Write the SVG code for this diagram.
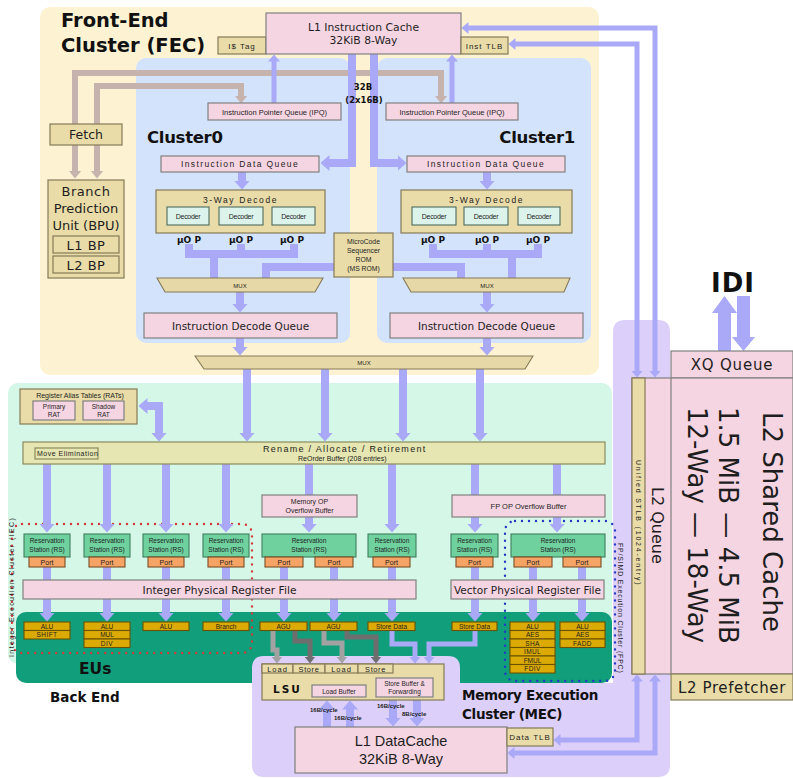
<svg xmlns="http://www.w3.org/2000/svg" width="793" height="778" viewBox="0 0 793 778">
<style>
.t{font-family:"Liberation Sans",Arial,sans-serif;fill:#1e1e1e}
.d{font-family:"DejaVu Sans",sans-serif;fill:#1e1e1e}
.b{font-family:"DejaVu Sans",sans-serif;font-weight:bold;fill:#111}
.m{text-anchor:middle}
.pk{fill:#f6d5e2;stroke:#808080;stroke-width:1.2}
.tn{fill:#e9dca8;stroke:#857a58;stroke-width:1.2}
.dc{fill:#dcf3ec;stroke:#4f6b60;stroke-width:1.1}
.rs{fill:#6fd29e;stroke:#3f7f5e;stroke-width:1.1}
.pt{fill:#f5a465;stroke:#7a4d24;stroke-width:1.1}
.eu{fill:#dcaa05;stroke:#6b5200;stroke-width:1.1}
.rn{fill:#e5e6b1;stroke:#8a8a5e;stroke-width:1.2}
.mx{fill:#e7d9a7;stroke:#857a58;stroke-width:1.1}
.lv{fill:none;stroke:#a9a9f7;stroke-width:8}
.lv5{fill:none;stroke:#a9a9f7;stroke-width:5}
.fe{fill:none;stroke:#c6b3ae;stroke-width:6}
.gl{fill:none;stroke:#a2a2a2;stroke-width:5}
.gd{fill:none;stroke:#6e6e6e;stroke-width:5}
</style>
<defs>
<marker id="a8" viewBox="0 0 9 16" refX="0.5" refY="8" markerWidth="9" markerHeight="16" markerUnits="userSpaceOnUse" orient="auto-start-reverse"><path d="M0,0 L9,8 L0,16 Z" fill="#a9a9f7"/></marker>
<marker id="a5" viewBox="0 0 7 12" refX="0.5" refY="6" markerWidth="7" markerHeight="12" markerUnits="userSpaceOnUse" orient="auto-start-reverse"><path d="M0,0 L7,6 L0,12 Z" fill="#a9a9f7"/></marker>
<marker id="af" viewBox="0 0 8 13" refX="0.5" refY="6.5" markerWidth="8" markerHeight="13" markerUnits="userSpaceOnUse" orient="auto-start-reverse"><path d="M0,0 L8,6.5 L0,13 Z" fill="#c6b3ae"/></marker>
<marker id="agl" viewBox="0 0 7 11" refX="0.5" refY="5.5" markerWidth="7" markerHeight="11" markerUnits="userSpaceOnUse" orient="auto"><path d="M0,0 L7,5.5 L0,11 Z" fill="#a2a2a2"/></marker>
<marker id="agd" viewBox="0 0 7 11" refX="0.5" refY="5.5" markerWidth="7" markerHeight="11" markerUnits="userSpaceOnUse" orient="auto"><path d="M0,0 L7,5.5 L0,11 Z" fill="#6e6e6e"/></marker>
</defs>

<!-- cluster backgrounds -->
<g id="regions">
<rect x="40" y="7" width="559" height="368" rx="10" fill="#fdf3d3"/>
<rect x="136" y="58" width="214" height="285" rx="10" fill="#d3e3fb"/>
<rect x="377" y="58" width="214" height="285" rx="10" fill="#d3e3fb"/>
<rect x="8" y="383" width="604" height="281" rx="10" fill="#d5f7e7"/>
<rect x="16" y="612" width="596" height="71" rx="10" fill="#119e7b"/>
<path d="M252,668 Q252,656 264,656 L448,656 Q460,656 460,668 L460,683 L613,683 L613,332 Q613,320 625,320 L658,320 Q670,320 670,332 L670,765 Q670,777 658,777 L264,777 Q252,777 252,765 Z" fill="#dccff9"/>
<rect x="12" y="524" width="240" height="129" rx="10" fill="none" stroke="#d23a3a" stroke-width="2.4" stroke-linecap="round" stroke-dasharray="0 7"/>
<rect x="505" y="521" width="110" height="160" rx="10" fill="none" stroke="#2438c4" stroke-width="2.4" stroke-linecap="round" stroke-dasharray="0 7"/>
</g>

<g id="titles">
<text class="b" x="61" y="27" font-size="19.5">Front-End</text>
<text class="b" x="61" y="52" font-size="19.5">Cluster (FEC)</text>
<text class="b" x="147" y="143" font-size="16.5" letter-spacing="-0.3">Cluster0</text>
<text class="b" x="575" y="143" font-size="16.5" letter-spacing="-0.3" text-anchor="end">Cluster1</text>
<text class="b" x="79" y="674" font-size="15.5">EUs</text>
<text class="b" x="50" y="702" font-size="13.5">Back End</text>
<text class="b" x="462" y="700" font-size="13.5" letter-spacing="-0.3">Memory Execution</text>
<text class="b" x="462" y="719" font-size="13.5" letter-spacing="-0.3">Cluster (MEC)</text>
<text class="b m" x="733" y="292" font-size="26" letter-spacing="1">IDI</text>
<text class="t" transform="translate(14,657) rotate(-90)" font-size="7" letter-spacing="1.4" fill="#5a5a4a">Integer Execution Cluster (IEC)</text>
<text class="t" transform="translate(618,543) rotate(90)" font-size="7" letter-spacing="0.8">FP/SIMD Execution Cluster (FPC)</text>
</g>

<g id="connectors">
<!-- fetch / branch prediction paths -->
<path class="fe" d="M75,171 V73 H441 V96" marker-start="url(#af)" marker-end="url(#af)"/>
<path class="fe" d="M97,171 V86 H241 V96" marker-start="url(#af)" marker-end="url(#af)"/>
<!-- L2 to L1I$ / ITLB -->
<path class="lv5" d="M655,371 V28 H468" marker-start="url(#a5)" marker-end="url(#a5)"/>
<path class="lv5" d="M637,371 V44 H515" marker-start="url(#a5)" marker-end="url(#a5)"/>
<!-- IPQ to L1I$ -->
<path class="lv5" d="M274,103 V61" marker-end="url(#a5)"/>
<path class="lv5" d="M452,103 V61" marker-end="url(#a5)"/>
<!-- 32B fetch -->
<path class="lv" stroke-width="9" d="M352,54 V163 H329" marker-end="url(#a8)"/>
<path class="lv" stroke-width="9" d="M374,54 V163 H398" marker-end="url(#a8)"/>
<!-- decode pipeline -->
<path class="lv" d="M242,172 V181" marker-end="url(#a8)"/>
<path class="lv" d="M487,172 V181" marker-end="url(#a8)"/>
<path class="lv" d="M189,244 V257 M241,244 V257 M294,244 V257 M214,254 V278"/>
<path class="lv" stroke-width="6" d="M185,254 H298"/>
<path class="lv" d="M433,244 V257 M487,244 V257 M538,244 V257 M512,254 V278"/>
<path class="lv" stroke-width="6" d="M429,254 H542"/>
<path class="lv" stroke-width="7" d="M334,267 H266 V278 M393,267 H461 V278"/>
<path class="lv" d="M240,292 V304" marker-end="url(#a8)"/>
<path class="lv" d="M487,292 V304" marker-end="url(#a8)"/>
<path class="lv" d="M240,338 V347" marker-end="url(#a8)"/>
<path class="lv" d="M487,338 V347" marker-end="url(#a8)"/>
<path class="lv" d="M247,369 V433" marker-end="url(#a8)"/>
<path class="lv" d="M325,369 V433" marker-end="url(#a8)"/>
<path class="lv" d="M403,369 V433" marker-end="url(#a8)"/>
<path class="lv" d="M480,369 V433" marker-end="url(#a8)"/>
<path class="lv" d="M159,433 V406 H147" marker-start="url(#a8)" marker-end="url(#a8)"/>
<!-- allocation to reservation stations -->
<path class="lv" d="M47,464 V524" marker-end="url(#a8)"/>
<path class="lv" d="M107,464 V524" marker-end="url(#a8)"/>
<path class="lv" d="M166,464 V524" marker-end="url(#a8)"/>
<path class="lv" d="M226,464 V524" marker-end="url(#a8)"/>
<path class="lv" d="M309,464 V524" marker-end="url(#a8)"/>
<path class="lv" d="M392,464 V524" marker-end="url(#a8)"/>
<path class="lv" d="M475,464 V524" marker-end="url(#a8)"/>
<path class="lv" d="M557,464 V524" marker-end="url(#a8)"/>
<!-- ports to execution units -->
<path class="lv" d="M47,567 V613" marker-end="url(#a8)"/>
<path class="lv" d="M107,567 V613" marker-end="url(#a8)"/>
<path class="lv" d="M166,567 V613" marker-end="url(#a8)"/>
<path class="lv" d="M226,567 V613" marker-end="url(#a8)"/>
<path class="lv" d="M284,567 V613" marker-end="url(#a8)"/>
<path class="lv" d="M334,567 V613" marker-end="url(#a8)"/>
<path class="lv" d="M392,567 V613" marker-end="url(#a8)"/>
<path class="lv" d="M475,567 V613" marker-end="url(#a8)"/>
<path class="lv" d="M533,567 V613" marker-end="url(#a8)"/>
<path class="lv" d="M582,567 V613" marker-end="url(#a8)"/>
<!-- AGU to load/store -->
<path class="gl" d="M273,631 V650 H277 V657" marker-end="url(#agl)"/>
<path class="gd" d="M295,631 V641 H310 V657" marker-end="url(#agd)"/>
<path class="gl" d="M324,631 V643 H342 V657" marker-end="url(#agl)"/>
<path class="gd" d="M347,631 V637 H376 V657" marker-end="url(#agd)"/>
<!-- store data -->
<path class="lv5" stroke-width="6" d="M392,630 V644 H415 V657" marker-end="url(#a5)"/>
<path class="lv5" stroke-width="6" d="M475,630 V644 H429 V657" marker-end="url(#a5)"/>
<!-- LSU and L1D -->
<path class="lv" d="M327,727 V709" marker-end="url(#a8)"/>
<path class="lv" d="M350,727 V709" marker-end="url(#a8)"/>
<path class="lv" d="M393,700 V718" marker-end="url(#a8)"/>
<path class="lv" d="M417,700 V718" marker-end="url(#a8)"/>
<!-- L2 to DTLB / L1D -->
<path class="lv5" d="M637,681 V740 H560" marker-start="url(#a5)" marker-end="url(#a5)"/>
<path class="lv5" d="M655,681 V753 H514" marker-start="url(#a5)" marker-end="url(#a5)"/>
<!-- IDI -->
<polygon points="718,351 718,313 712,313 724.5,296 737,313 731,313 731,351" fill="#a9a9f7"/>
<polygon points="737,296 750,296 750,337 755,337 743.5,351 732,337 737,337" fill="#a9a9f7"/>
</g>

<g id="itag"><rect class="tn" x="218" y="37" width="48" height="17"/><text class="t m" x="242" y="49" font-size="8" letter-spacing="1">I$ Tag</text></g>
<g id="l1i"><rect class="pk" x="266" y="13" width="195" height="41"/><text class="d m" x="363.5" y="31" font-size="10.8">L1 Instruction Cache</text><text class="d m" x="363.5" y="44" font-size="10.8">32KiB 8-Way</text></g>
<g id="itlb"><rect class="tn" x="461" y="37" width="47" height="17"/><text class="t m" x="484.5" y="49" font-size="8" letter-spacing="1">Inst TLB</text></g>
<g id="fetch"><rect class="tn" x="50" y="124" width="72" height="21"/><text class="d m" x="86" y="139" font-size="12.5">Fetch</text></g>
<g id="bpu"><rect class="tn" x="48" y="180" width="76" height="98"/>
<text class="d m" x="86" y="196" font-size="13" letter-spacing="0.5">Branch</text>
<text class="d m" x="86" y="213" font-size="13">Prediction</text>
<text class="d m" x="86" y="230" font-size="13">Unit (BPU)</text>
<rect class="tn" x="53" y="236" width="66" height="17"/><text class="d m" x="86" y="249.5" font-size="13" letter-spacing="0.5">L1 BP</text>
<rect class="tn" x="53" y="256" width="66" height="17"/><text class="d m" x="86" y="269.5" font-size="13" letter-spacing="0.5">L2 BP</text></g>
<g id="ipq0"><rect class="pk" x="208" y="103" width="133" height="17"/><text class="t m" x="274.5" y="114.5" font-size="7.5">Instruction Pointer Queue (IPQ)</text></g>
<g id="ipq1"><rect class="pk" x="386" y="103" width="132" height="17"/><text class="t m" x="452" y="114.5" font-size="7.5">Instruction Pointer Queue (IPQ)</text></g>
<g id="lbl32"><text class="b m" x="363" y="90" font-size="8.5">32B</text><text class="b m" x="364" y="103" font-size="8.5">(2x16B)</text></g>
<g id="idq0"><rect class="pk" x="161" y="156" width="158" height="16"/><text class="t m" x="240" y="167" font-size="8.5" letter-spacing="1.4">Instruction Data Queue</text></g>
<g id="idq1"><rect class="pk" x="407" y="156" width="158" height="16"/><text class="t m" x="486" y="167" font-size="8.5" letter-spacing="1.4">Instruction Data Queue</text></g>
<g id="dec0"><rect class="tn" x="156" y="190" width="169" height="43"/><text class="t m" x="240.5" y="203" font-size="8.5" letter-spacing="1.6">3-Way Decode</text>
<rect class="dc" x="167" y="207" width="42" height="18"/><text class="t m" x="188" y="219" font-size="7" letter-spacing="-0.3">Decoder</text>
<rect class="dc" x="219" y="207" width="44" height="18"/><text class="t m" x="241" y="219" font-size="7" letter-spacing="-0.3">Decoder</text>
<rect class="dc" x="272" y="207" width="43" height="18"/><text class="t m" x="293.5" y="219" font-size="7" letter-spacing="-0.3">Decoder</text>
<text class="b m" x="189" y="243" font-size="9">µO P</text><text class="b m" x="241" y="243" font-size="9">µO P</text><text class="b m" x="292" y="243" font-size="9">µO P</text></g>
<g id="dec1"><rect class="tn" x="401" y="190" width="171" height="43"/><text class="t m" x="486.5" y="203" font-size="8.5" letter-spacing="1.6">3-Way Decode</text>
<rect class="dc" x="412" y="207" width="44" height="18"/><text class="t m" x="434" y="219" font-size="7" letter-spacing="-0.3">Decoder</text>
<rect class="dc" x="464" y="207" width="44" height="18"/><text class="t m" x="486" y="219" font-size="7" letter-spacing="-0.3">Decoder</text>
<rect class="dc" x="518" y="207" width="42" height="18"/><text class="t m" x="539" y="219" font-size="7" letter-spacing="-0.3">Decoder</text>
<text class="b m" x="433" y="243" font-size="9">µO P</text><text class="b m" x="487" y="243" font-size="9">µO P</text><text class="b m" x="538" y="243" font-size="9">µO P</text></g>
<g id="msrom"><rect class="tn" x="334" y="233" width="59" height="44"/>
<text class="t m" x="363.5" y="244" font-size="6.8">MicroCode</text><text class="t m" x="363.5" y="253" font-size="6.8">Sequencer</text><text class="t m" x="363.5" y="262" font-size="6.8">ROM</text><text class="t m" x="363.5" y="271" font-size="6.8">(MS ROM)</text></g>
<g id="mux0"><polygon class="mx" points="157,278 323,278 315,292 165,292"/><text class="t m" x="240" y="287.5" font-size="6">MUX</text></g>
<g id="mux1"><polygon class="mx" points="403,278 570,278 564,292 411,292"/><text class="t m" x="487" y="287.5" font-size="6">MUX</text></g>
<g id="idecq0"><rect class="pk" x="144" y="313" width="193" height="25"/><text class="d m" x="240.5" y="329.5" font-size="10.5">Instruction Decode Queue</text></g>
<g id="idecq1"><rect class="pk" x="390" y="313" width="193" height="25"/><text class="d m" x="486.5" y="329.5" font-size="10.5">Instruction Decode Queue</text></g>
<g id="bigmux"><polygon class="mx" points="195,356 533,356 525,369 204,369"/><text class="t m" x="364" y="365" font-size="6">MUX</text></g>

<g id="rat"><rect class="tn" x="20" y="389" width="117" height="35"/><text class="t m" x="80" y="397.5" font-size="7">Register Alias Tables (RATs)</text>
<rect class="pk" x="33" y="401" width="42" height="19"/><text class="t m" x="54" y="409" font-size="6.5">Primary</text><text class="t m" x="54" y="417" font-size="6.5">RAT</text>
<rect class="pk" x="83" y="401" width="41" height="19"/><text class="t m" x="103.5" y="409" font-size="6.5">Shadow</text><text class="t m" x="103.5" y="417" font-size="6.5">RAT</text></g>
<g id="rename"><rect class="rn" x="23" y="442" width="582" height="22"/>
<text class="t" x="263" y="452" font-size="9" letter-spacing="1.3">Rename / Allocate / Retirement</text>
<text class="t" x="298" y="460.5" font-size="7">ReOrder Buffer (208 entries)</text>
<rect class="rn" x="35" y="448" width="63" height="11" stroke="#4f6b3a"/><text class="t" x="37" y="456" font-size="7" letter-spacing="0.5">Move Elimination</text></g>
<g id="memop"><rect class="pk" x="262" y="495" width="95" height="22"/><text class="t m" x="309.5" y="504" font-size="7">Memory OP</text><text class="t m" x="309.5" y="512.5" font-size="7">Overflow Buffer</text></g>
<g id="fpop"><rect class="pk" x="452" y="495" width="153" height="22"/><text class="t m" x="528.5" y="508.5" font-size="7.5">FP OP Overflow Buffer</text></g>

<g id="rs-int">
<rect class="rs" x="24" y="534" width="46" height="23"/><text class="t m" x="47" y="543" font-size="6.5">Reservation</text><text class="t m" x="47" y="551.5" font-size="6.5">Station (RS)</text>
<rect class="pt" x="29" y="557" width="36" height="10"/><text class="t m" x="47" y="565" font-size="7">Port</text>
<rect class="rs" x="84" y="534" width="46" height="23"/><text class="t m" x="107" y="543" font-size="6.5">Reservation</text><text class="t m" x="107" y="551.5" font-size="6.5">Station (RS)</text>
<rect class="pt" x="89" y="557" width="36" height="10"/><text class="t m" x="107" y="565" font-size="7">Port</text>
<rect class="rs" x="143" y="534" width="46" height="23"/><text class="t m" x="166" y="543" font-size="6.5">Reservation</text><text class="t m" x="166" y="551.5" font-size="6.5">Station (RS)</text>
<rect class="pt" x="148" y="557" width="36" height="10"/><text class="t m" x="166" y="565" font-size="7">Port</text>
<rect class="rs" x="203" y="534" width="46" height="23"/><text class="t m" x="226" y="543" font-size="6.5">Reservation</text><text class="t m" x="226" y="551.5" font-size="6.5">Station (RS)</text>
<rect class="pt" x="208" y="557" width="36" height="10"/><text class="t m" x="226" y="565" font-size="7">Port</text>
</g>
<g id="rs-mem">
<rect class="rs" x="262" y="534" width="94" height="23"/><text class="t m" x="309" y="543" font-size="6.5">Reservation</text><text class="t m" x="309" y="551.5" font-size="6.5">Station (RS)</text>
<rect class="pt" x="265" y="557" width="38" height="10"/><text class="t m" x="284" y="565" font-size="7">Port</text>
<rect class="pt" x="315" y="557" width="38" height="10"/><text class="t m" x="334" y="565" font-size="7">Port</text>
<rect class="rs" x="368" y="534" width="48" height="23"/><text class="t m" x="392" y="543" font-size="6.5">Reservation</text><text class="t m" x="392" y="551.5" font-size="6.5">Station (RS)</text>
<rect class="pt" x="373" y="557" width="37" height="10"/><text class="t m" x="391.5" y="565" font-size="7">Port</text>
</g>
<g id="rs-fp">
<rect class="rs" x="451" y="534" width="47" height="23"/><text class="t m" x="474.5" y="543" font-size="6.5">Reservation</text><text class="t m" x="474.5" y="551.5" font-size="6.5">Station (RS)</text>
<rect class="pt" x="456" y="557" width="37" height="10"/><text class="t m" x="474.5" y="565" font-size="7">Port</text>
<rect class="rs" x="511" y="534" width="94" height="23"/><text class="t m" x="558" y="543" font-size="6.5">Reservation</text><text class="t m" x="558" y="551.5" font-size="6.5">Station (RS)</text>
<rect class="pt" x="514" y="557" width="38" height="10"/><text class="t m" x="533" y="565" font-size="7">Port</text>
<rect class="pt" x="563" y="557" width="38" height="10"/><text class="t m" x="582" y="565" font-size="7">Port</text>
</g>
<g id="iprf"><rect class="pk" x="23" y="580" width="393" height="19"/><text class="d m" x="219.5" y="594" font-size="10.7">Integer Physical Register File</text></g>
<g id="vprf"><rect class="pk" x="451" y="580" width="153" height="19"/><text class="d m" x="527.5" y="594" font-size="10.5">Vector Physical Register File</text></g>

<g id="eus">
<rect class="eu" x="24" y="622" width="46" height="8.5"/><text class="t m" x="47" y="628.8" font-size="6.5">ALU</text>
<rect class="eu" x="24" y="630.5" width="46" height="8.5"/><text class="t m" x="47" y="637.3" font-size="6.5" letter-spacing="0.4">SHIFT</text>
<rect class="eu" x="84" y="622" width="46" height="8.5"/><text class="t m" x="107" y="628.8" font-size="6.5">ALU</text>
<rect class="eu" x="84" y="630.5" width="46" height="8.5"/><text class="t m" x="107" y="637.3" font-size="6.5">MUL</text>
<rect class="eu" x="84" y="639" width="46" height="8.5"/><text class="t m" x="107" y="645.8" font-size="6.5" letter-spacing="0.6">DIV</text>
<rect class="eu" x="143" y="622" width="46" height="8.5"/><text class="t m" x="166" y="628.8" font-size="6.5">ALU</text>
<rect class="eu" x="203" y="622" width="46" height="8.5"/><text class="t m" x="226" y="628.8" font-size="6.5">Branch</text>
<rect class="eu" x="260" y="622" width="47" height="8.5"/><text class="t m" x="283.5" y="628.8" font-size="6.5">AGU</text>
<rect class="eu" x="310" y="622" width="47" height="8.5"/><text class="t m" x="333.5" y="628.8" font-size="6.5">AGU</text>
<rect class="eu" x="368" y="622" width="47" height="8.5"/><text class="t m" x="391.5" y="628.8" font-size="6.5">Store Data</text>
<rect class="eu" x="452" y="622" width="45" height="8.5"/><text class="t m" x="474.5" y="628.8" font-size="6.5">Store Data</text>
<rect class="eu" x="510" y="622" width="45" height="8.5"/><text class="t m" x="532.5" y="628.8" font-size="6.5">ALU</text>
<rect class="eu" x="510" y="630.5" width="45" height="8.5"/><text class="t m" x="532.5" y="637.3" font-size="6.5">AES</text>
<rect class="eu" x="510" y="639" width="45" height="8.5"/><text class="t m" x="532.5" y="645.8" font-size="6.5" letter-spacing="0.4">SHA</text>
<rect class="eu" x="510" y="647.5" width="45" height="8.5"/><text class="t m" x="532.5" y="654.3" font-size="6.5" letter-spacing="0.4">IMUL</text>
<rect class="eu" x="510" y="656" width="45" height="8.5"/><text class="t m" x="532.5" y="662.8" font-size="6.5">FMUL</text>
<rect class="eu" x="510" y="664.5" width="45" height="8.5"/><text class="t m" x="532.5" y="671.3" font-size="6.5" letter-spacing="0.4">FDIV</text>
<rect class="eu" x="560" y="622" width="45" height="8.5"/><text class="t m" x="582.5" y="628.8" font-size="6.5">ALU</text>
<rect class="eu" x="560" y="630.5" width="45" height="8.5"/><text class="t m" x="582.5" y="637.3" font-size="6.5">AES</text>
<rect class="eu" x="560" y="639" width="45" height="8.5"/><text class="t m" x="582.5" y="645.8" font-size="6.5" letter-spacing="0.4">FADD</text>
</g>

<g id="lsu"><rect class="tn" x="262" y="664" width="182" height="36"/>
<rect class="tn" x="262" y="664" width="31" height="9"/><text class="t m" x="277.5" y="671.5" font-size="7.5" letter-spacing="1">Load</text>
<rect class="tn" x="293" y="664" width="32" height="9"/><text class="t m" x="309" y="671.5" font-size="7.5" letter-spacing="0.6">Store</text>
<rect class="tn" x="325" y="664" width="33" height="9"/><text class="t m" x="341.5" y="671.5" font-size="7.5" letter-spacing="1">Load</text>
<rect class="tn" x="358" y="664" width="35" height="9"/><text class="t m" x="375.5" y="671.5" font-size="7.5" letter-spacing="0.6">Store</text>
<text class="b" x="273" y="693" font-size="10.5" letter-spacing="2">LSU</text>
<rect class="pk" x="312" y="685" width="54" height="12"/><text class="t m" x="339" y="693.5" font-size="6.5">Load Buffer</text>
<rect class="pk" x="376" y="678" width="57" height="19"/><text class="t m" x="404.5" y="686" font-size="6.5">Store Buffer &amp;</text><text class="t m" x="404.5" y="694" font-size="6.5">Forwarding</text></g>
<g id="bw">
<text class="t" x="310" y="712" font-size="6" font-weight="bold">16B/cycle</text>
<text class="t" x="334" y="720" font-size="6" font-weight="bold">16B/cycle</text>
<text class="t" x="377" y="708" font-size="6" font-weight="bold">16B/cycle</text>
<text class="t" x="402" y="716" font-size="6" font-weight="bold">8B/cycle</text></g>
<g id="l1d"><rect class="pk" x="295" y="727" width="212" height="46"/><text class="t m" x="401" y="746" font-size="14.5">L1 DataCache</text><text class="t m" x="401" y="764" font-size="14.5">32KiB 8-Way</text></g>
<g id="dtlb"><rect class="tn" x="507" y="728" width="46" height="18"/><text class="t m" x="530" y="740" font-size="8" letter-spacing="1">Data TLB</text></g>

<g id="xq"><rect class="pk" x="671" y="351" width="122" height="27"/><text class="d m" x="732" y="370" font-size="15" letter-spacing="0.8">XQ Queue</text></g>
<g id="l2"><rect class="pk" x="632" y="378" width="161" height="296"/>
<rect class="tn" x="632" y="378" width="13" height="296"/>
<line x1="671" y1="378" x2="671" y2="674" stroke="#808080" stroke-width="1.2"/>
<text class="t" transform="translate(635.5,460) rotate(90)" font-size="7" letter-spacing="1.8">Unified STLB (1024-entry)</text>
<text class="d" transform="translate(652,487) rotate(90)" font-size="16">L2 Queue</text>
<text class="d" transform="translate(763,412) rotate(90)" font-size="26">L2 Shared Cache</text>
<text class="d" transform="translate(719,407) rotate(90)" font-size="26">1.5 MiB — 4.5 MiB</text>
<text class="d" transform="translate(688,407) rotate(90)" font-size="26">12-Way — 18-Way</text></g>
<g id="l2pf"><rect class="tn" x="671" y="674" width="122" height="26"/><text class="d m" x="732" y="693" font-size="15" letter-spacing="0.6">L2 Prefetcher</text></g>
</svg>
